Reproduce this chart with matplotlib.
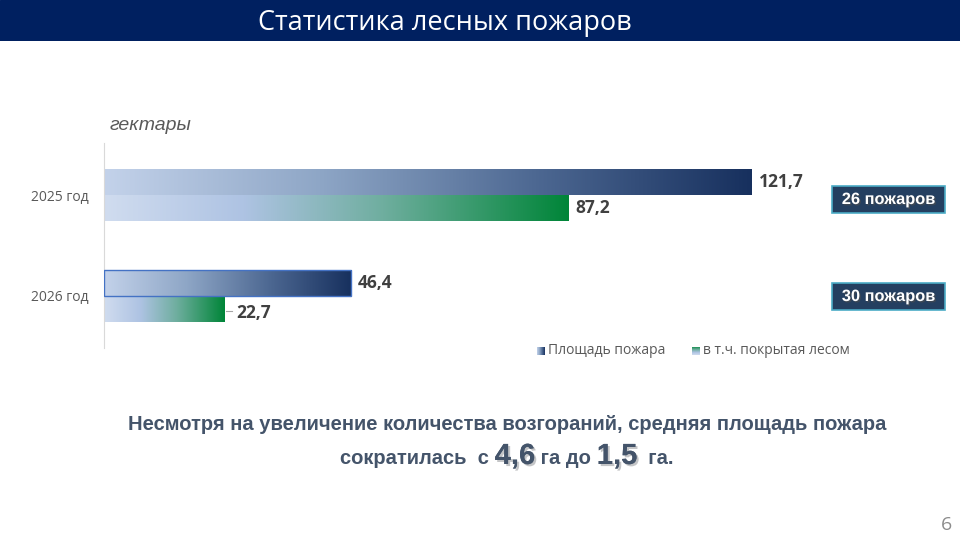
import matplotlib.pyplot as plt
import matplotlib.patheffects as pe
from matplotlib.colors import LinearSegmentedColormap
from matplotlib.patches import Rectangle
import numpy as np

years = ["2025 год", "2026 год"]
area_total = [121.7, 46.4]
area_forest = [87.2, 22.7]
fires_count = ["26 пожаров", "30 пожаров"]
series_names = ["Площадь пожара", "в т.ч. покрытая лесом"]
title = "Статистика лесных пожаров"
unit = "гектары"
note_line1 = "Несмотря на увеличение количества возгораний, средняя площадь пожара"
avg_before = "4,6"
avg_after = "1,5"

W, H = 960, 540
fig = plt.figure(figsize=(9.6, 5.4), dpi=100)
fig.patch.set_facecolor("white")

blue_cmap = LinearSegmentedColormap.from_list("b", ["#c3d2ea", "#8ea6c6", "#4d6892", "#17305e"])
green_cmap = LinearSegmentedColormap.from_list(
    "g", [(0, "#d0dcef"), (0.3, "#aec3e3"), (0.6, "#6fae9f"), (1, "#008538")])


def fx(px):
    return px / W


def fy(py):
    return 1 - py / H


# title band
band = fig.add_axes([0, fy(41), 1, 41 / H])
band.set_axis_off()
band.add_patch(Rectangle((0, 0), 1, 1, color="#002060", transform=band.transAxes))
fig.text(fx(445), fy(23), title, color="white", fontsize=19.5, family="Open Sans",
         ha="center", va="center")

# chart axes
px_per_unit = (752 - 104) / 121.7
ax_left, ax_right = 104, 952
ax = fig.add_axes([fx(ax_left), fy(348), fx(ax_right - ax_left), (348 - 143) / H])
ax.set_xlim(0, (ax_right - ax_left) / px_per_unit)
ax.set_ylim(1.515, -0.515)
for s in ["top", "right", "bottom"]:
    ax.spines[s].set_visible(False)
ax.spines["left"].set_color("#d9d9d9")
ax.set_xticks([])
ax.set_yticks(range(len(years)))
ax.set_yticklabels(years, fontsize=10, color="#595959", family="Open Sans")
ax.tick_params(axis="y", length=0, pad=11)

bh = 0.257
y = np.arange(len(years))
grad = np.linspace(0, 1, 256).reshape(1, -1)

bars1 = ax.barh(y - bh / 2, area_total, height=bh, color="none")
bars2 = ax.barh(y + bh / 2, area_forest, height=bh, color="none")
for bars, cmap in [(bars1, blue_cmap), (bars2, green_cmap)]:
    for b in bars:
        x0, y0, w, h = b.get_x(), b.get_y(), b.get_width(), b.get_height()
        im = ax.imshow(grad, cmap=cmap, aspect="auto", extent=[x0, x0 + w, y0 + h, y0],
                       zorder=2)
        im.set_clip_path(b)
bars1[1].set_edgecolor("#4472c4")
bars1[1].set_linewidth(1.0)
bars1[1].set_zorder(3)

lab_kw = dict(fontsize=12.5, fontweight="bold", color="#404040", va="center",
              family="Open Sans")
for i in range(len(years)):
    ax.annotate(f"{area_total[i]:.1f}".replace(".", ","), (area_total[i], y[i] - bh / 2),
                xytext=(5, 0), textcoords="offset points", **lab_kw)
    off = -3 if i == 1 else 0
    ax.annotate(f"{area_forest[i]:.1f}".replace(".", ","), (area_forest[i], y[i] + bh / 2),
                xytext=(8 if i == 1 else 5, off), textcoords="offset points", **lab_kw)
ax.plot([area_forest[1] + 0.3, area_forest[1] + 1.4], [y[1] + bh / 2 + 0.02] * 2,
        color="#a6a6a6", lw=0.8)

# fire count boxes
for i, t in enumerate(fires_count):
    cy = [199.5, 296.5][i]
    fig.add_artist(Rectangle((fx(832), fy(cy + 13.5)), fx(113), 27 / H,
                             transform=fig.transFigure, fc="#243f60", ec="#4bacc6", lw=1.2))
    fig.text(fx(888.5), fy(cy), t, fontsize=11.8, fontweight="bold", color="white",
             family="Liberation Sans", ha="center", va="center",
             path_effects=[pe.withSimplePatchShadow(offset=(1, -1), alpha=0.6)])

# unit label
fig.text(fx(110), fy(125), unit, fontsize=14, style="italic", color="#595959",
         family="Liberation Sans", va="center")

# legend
for (xp, cmap, name, orient) in [(537, blue_cmap, series_names[0], "h"),
                                 (692, green_cmap, series_names[1], "v")]:
    lax = fig.add_axes([fx(xp), fy(355), fx(8), 8 / H])
    lax.set_axis_off()
    g = grad if orient == "h" else grad.T[::-1]
    lax.imshow(g, cmap=cmap, aspect="auto")
    fig.text(fx(xp + 11), fy(351), name, fontsize=10, color="#595959",
             family="Open Sans", va="center")

# bottom note
note_color = "#44546a"
note_font = "Liberation Sans"
fig.text(fx(507), fy(424), note_line1, fontsize=14.5, fontweight="bold", color=note_color,
         family=note_font, ha="center", va="center")

pieces = [("сократилась  с ", 14.5, False), (avg_before, 21, True), (" га до ", 14.5, False),
          (avg_after, 21, True), ("  га.", 14.5, False)]
renderer = fig.canvas.get_renderer()
texts = []
for s, size, big in pieces:
    t = fig.text(0, fy(464), s, fontsize=size, fontweight="bold", color=note_color,
                 family=note_font, va="baseline")
    if big:
        t.set_path_effects([pe.withSimplePatchShadow(offset=(1.5, -1.5), alpha=0.25),
                            pe.Normal()])
    texts.append(t)
widths = [t.get_window_extent(renderer).width for t in texts]
start = 507 - sum(widths) / 2
for t, w in zip(texts, widths):
    t.set_x(fx(start))
    start += w

fig.text(fx(946), fy(525), "6", fontsize=14, color="#8c8c8c", family="Open Sans",
         ha="center", va="center")

fig.savefig("out.png", dpi=100)
